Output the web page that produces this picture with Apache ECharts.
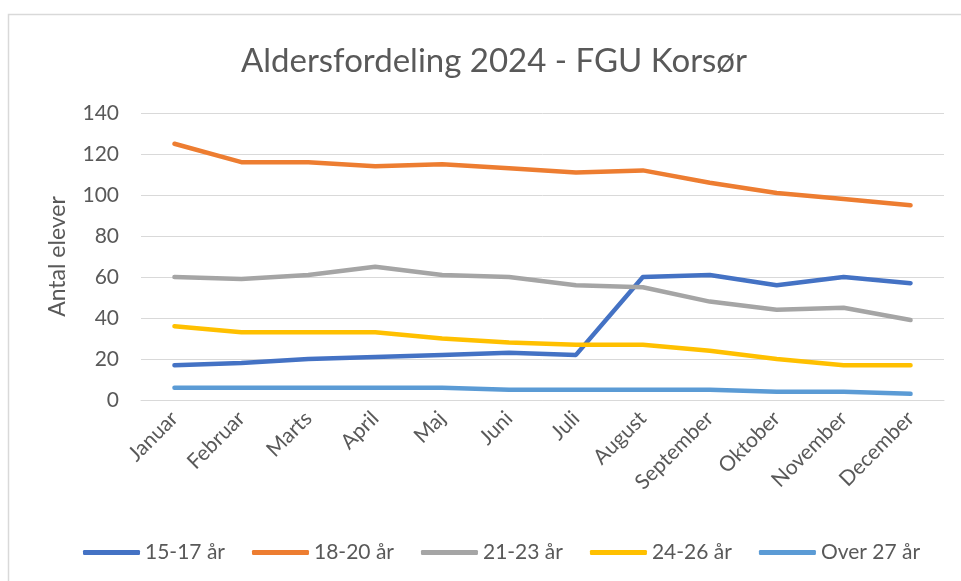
<!DOCTYPE html>
<html>
<head>
<meta charset="utf-8">
<script src="https://cdn.jsdelivr.net/npm/echarts@6/dist/echarts.min.js"></script>
<style>html,body{margin:0;padding:0;background:#fff;}#c{width:961px;height:581px;}</style>
</head>
<body>
<div id="c"></div>
<script>
const titleText = 'Aldersfordeling 2024 - FGU Korsør';
const yAxisName = 'Antal elever';
const months = ['Januar','Februar','Marts','April','Maj','Juni','Juli','August','September','Oktober','November','December'];
const seriesNames = ['15-17 år','18-20 år','21-23 år','24-26 år','Over 27 år'];
const s15_17 = [17,18,20,21,22,23,22,60,61,56,60,57];
const s18_20 = [125,116,116,114,115,113,111,112,106,101,98,95];
const s21_23 = [60,59,61,65,61,60,56,55,48,44,45,39];
const s24_26 = [36,33,33,33,30,28,27,27,24,20,17,17];
const sOver27 = [6,6,6,6,6,5,5,5,5,4,4,3];
const colors = ['#4472C4','#ED7D31','#A5A5A5','#FFC000','#5B9BD5'];
const allData = [s15_17, s18_20, s21_23, s24_26, sOver27];

const FONT = 'Lato';
const chart = echarts.init(document.getElementById('c'), null, {renderer:'canvas'});
chart.setOption({
  animation: false,
  backgroundColor: '#fff',
  color: colors,
  graphic: [{
    type: 'rect', silent: true, z: -1,
    shape: {x: 8.5, y: 14.5, width: 970, height: 600},
    style: {fill: 'none', stroke: '#d9d9d9', lineWidth: 1.5}
  }],
  title: {
    text: titleText,
    left: 489, top: 40, textAlign: 'center',
    textStyle: {fontFamily: FONT, fontSize: 33, fontWeight: 'normal', color: '#595959'}
  },
  legend: {
    left: 83, top: 542, padding: 0,
    icon: 'roundRect', itemWidth: 57, itemHeight: 5, itemGap: 27,
    textStyle: {fontFamily: FONT, fontSize: 21, color: '#595959'},
    data: seriesNames
  },
  grid: {left: 141, right: 17, top: 113, bottom: 181, containLabel: false},
  xAxis: {
    type: 'category', data: months, boundaryGap: true,
    axisLine: {show: true, lineStyle: {color: '#d9d9d9', width: 1}},
    axisTick: {show: false},
    axisLabel: {rotate: 45, margin: 15, fontFamily: FONT, fontSize: 21, color: '#595959', interval: 0}
  },
  yAxis: {
    type: 'value', min: 0, max: 140, interval: 20,
    name: yAxisName, nameLocation: 'middle', nameGap: 72, nameRotate: 90,
    nameTextStyle: {fontFamily: FONT, fontSize: 23, color: '#595959'},
    axisLine: {show: false}, axisTick: {show: false},
    axisLabel: {margin: 22, fontFamily: FONT, fontSize: 21, color: '#595959'},
    splitLine: {lineStyle: {color: '#d9d9d9', width: 1}}
  },
  series: seriesNames.map((n, i) => ({
    name: n, type: 'line', data: allData[i], showSymbol: false, symbol: 'none',
    lineStyle: {width: 4.5, color: colors[i], cap: 'round', join: 'round'},
    itemStyle: {color: colors[i]}
  }))
});
</script>
</body>
</html>
